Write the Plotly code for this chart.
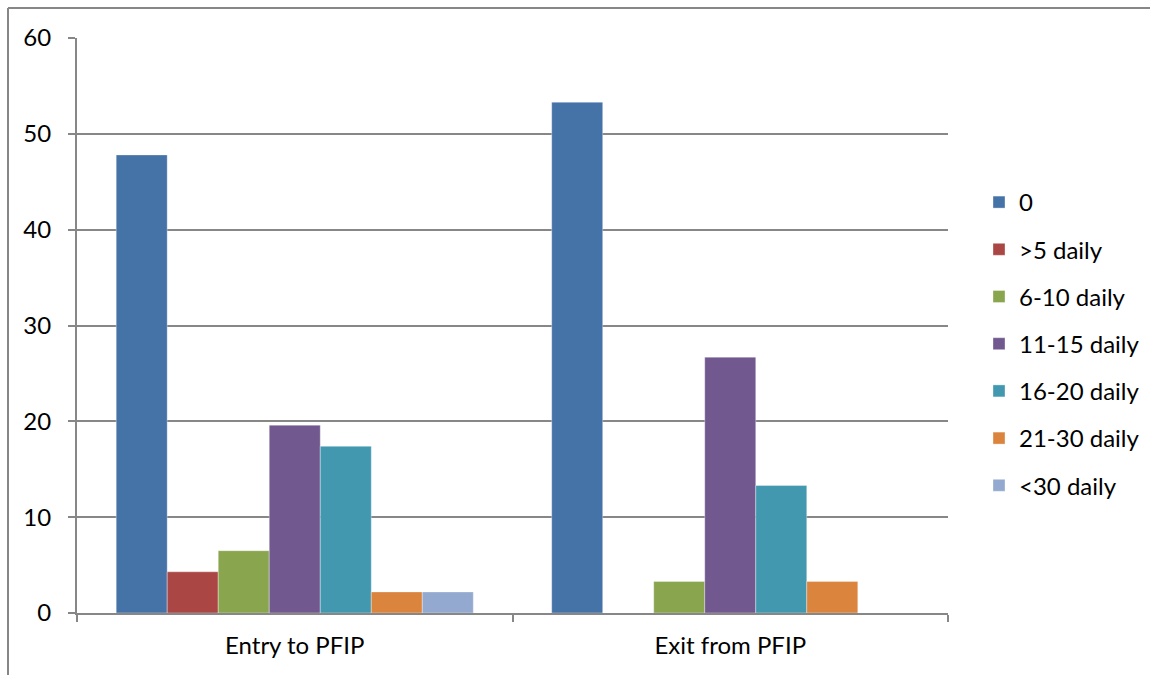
import plotly.graph_objects as go

# Daily frequency distribution (%) at entry to and exit from PFIP
categories = ["Entry to PFIP", "Exit from PFIP"]
series_names = ["0", ">5 daily", "6-10 daily", "11-15 daily", "16-20 daily", "21-30 daily", "<30 daily"]
values_zero = [47.8, 53.3]
values_lt5 = [4.3, 0]
values_6_10 = [6.5, 3.3]
values_11_15 = [19.6, 26.7]
values_16_20 = [17.4, 13.3]
values_21_30 = [2.2, 3.3]
values_gt30 = [2.2, 0]
series_values = [values_zero, values_lt5, values_6_10, values_11_15,
                 values_16_20, values_21_30, values_gt30]
colors = ["#4572A7", "#AA4643", "#89A54E", "#71588F", "#4198AF", "#DB843D", "#93A9CF"]
y_ticks = [0, 10, 20, 30, 40, 50, 60]

FONT = "Lato, Carlito, Calibri, sans-serif"
AXIS_GRAY = "#878787"
FS = 24

fig = go.Figure()
for i, (name, vals, col) in enumerate(zip(series_names, series_values, colors)):
    fig.add_trace(go.Bar(
        x=categories, y=vals, name=name,
        marker=dict(color=col, line=dict(color="rgba(255,255,255,0.35)", width=1)),
        legendgroup=f"g{i}",
    ))

W, H = 1150, 675
L, R, T, B = 77, 202, 38, 62
pw, ph = W - L - R, H - T - B


def px_x(x):
    return (x - L) / pw


def px_y(y):
    return (H - B - y) / ph


fig.update_layout(
    width=W, height=H,
    margin=dict(l=L, r=R, t=T, b=B, autoexpand=False),
    paper_bgcolor="white", plot_bgcolor="white",
    barmode="group", bargap=0.18, bargroupgap=0,
    font=dict(family=FONT, size=FS, color="#000000"),
    showlegend=True,
    legend=dict(
        x=px_x(979), y=px_y(344), xanchor="left", yanchor="middle",
        font=dict(family=FONT, size=FS, color="#000000"),
        tracegroupgap=13, traceorder="grouped",
        itemwidth=30, bgcolor="rgba(0,0,0,0)",
    ),
    xaxis=dict(
        showline=True, linecolor=AXIS_GRAY, linewidth=2,
        ticks="outside", tickson="boundaries", ticklen=7, tickcolor=AXIS_GRAY, tickwidth=2,
        showgrid=False, tickfont=dict(family=FONT, size=FS),
        ticklabelstandoff=10,
    ),
    yaxis=dict(
        range=[0, 60], tickvals=y_ticks,
        showline=True, linecolor=AXIS_GRAY, linewidth=2,
        ticks="outside", ticklen=7, tickcolor=AXIS_GRAY, tickwidth=2,
        showgrid=True, gridcolor=AXIS_GRAY, gridwidth=1.5,
        zeroline=False, ticklabelstandoff=12,
        tickfont=dict(family=FONT, size=FS),
    ),
    shapes=[
        dict(type="line", xref="paper", yref="paper",
             x0=px_x(8), x1=px_x(W + 5), y0=px_y(8), y1=px_y(8),
             line=dict(color=AXIS_GRAY, width=2)),
        dict(type="line", xref="paper", yref="paper",
             x0=px_x(8), x1=px_x(8), y0=px_y(8), y1=px_y(H + 5),
             line=dict(color=AXIS_GRAY, width=2)),
    ],
)

fig.write_html("out.html")
